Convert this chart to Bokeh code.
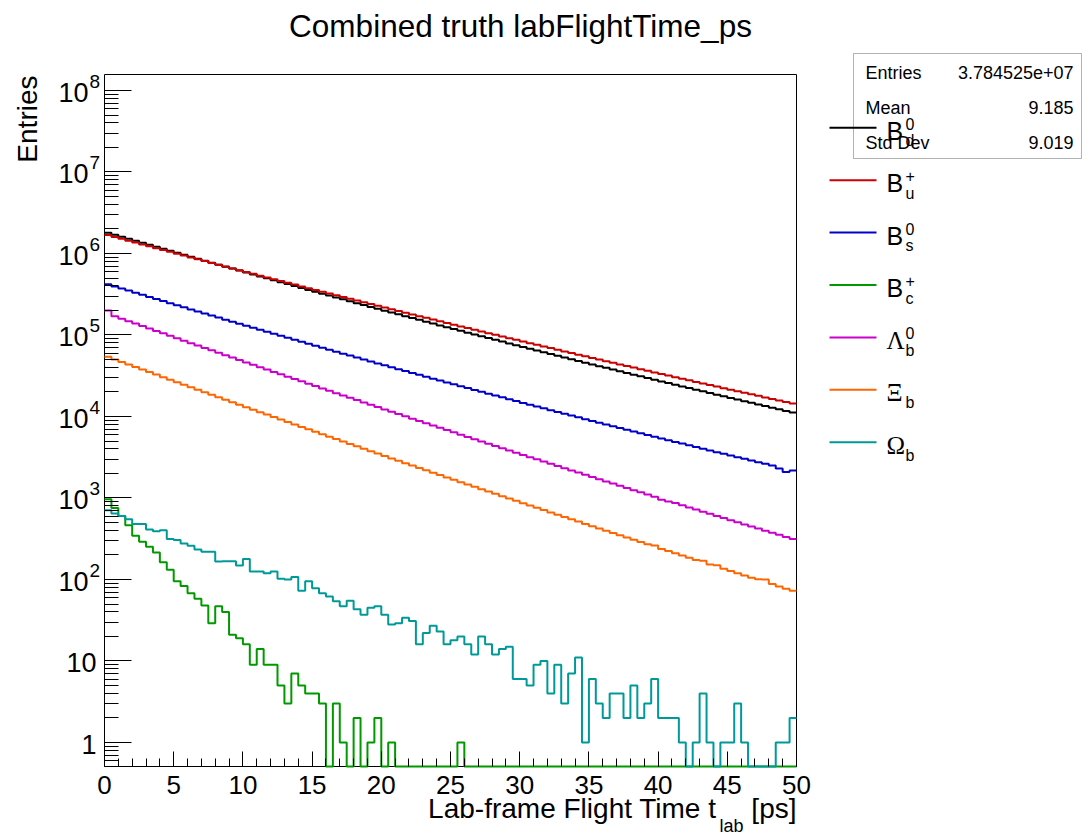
import math
import numpy as np
from bokeh.plotting import figure
from bokeh.models import (Range1d, FixedTicker, Label, Arrow, BoxAnnotation,
                          CustomJSTickFormatter, LinearAxis, LogAxis)
from bokeh.embed import file_html
from bokeh.resources import INLINE

# ---------------- data ----------------
title_text = "Combined truth labFlightTime_ps"
x_title = "Lab-frame Flight Time t"
x_title_sub = "lab"
x_title_unit = "[ps]"
y_title = "Entries"

x_min, x_max, n_bins = 0.0, 50.0, 100
x_ticks = [0, 5, 10, 15, 20, 25, 30, 35, 40, 45, 50]
y_decades = [0, 1, 2, 3, 4, 5, 6, 7, 8]

series_names = ["B0", "Bu", "Bs", "Bc", "Lb", "Xb", "Ob"]
series_colors = ["#000000", "#cc0000", "#0000cc", "#009900", "#cc00cc", "#ff6600", "#009999"]
legend_main = ["B", "B", "B", "B", "\u039b", "\u039e", "\u03a9"]
legend_sup = ["0", "+", "0", "+", "0", "", ""]
legend_sub = ["d", "u", "s", "c", "b", "b", "b"]

b0 = [1803000, 1703000, 1608000, 1519000, 1435000, 1355000, 1280000, 1208000, 1141000, 1078000,
      1019000, 963800, 911600, 862200, 815200, 771100, 729300, 689700, 652400, 617000,
      583500, 552500, 523400, 495600, 469200, 444400, 420900, 398600, 377400, 357400,
      338400, 320900, 304300, 288500, 273600, 259400, 246000, 233200, 221200, 209600,
      198800, 188800, 179200, 170100, 161500, 153400, 145600, 138200, 131200, 124600,
      118300, 112500, 106900, 101600, 96610, 91850, 87320, 83010, 78900, 75000,
      71300, 67870, 64610, 61490, 58530, 55710, 53020, 50480, 48050, 45730,
      43530, 41490, 39540, 37680, 35920, 34230, 32630, 31090, 29630, 28250,
      26930, 25690, 24520, 23400, 22330, 21310, 20340, 19410, 18520, 17670,
      16860, 16120, 15400, 14710, 14060, 13430, 12830, 12260, 11720, 11190]

bu = [1683000, 1596000, 1515000, 1437000, 1362000, 1292000, 1226000, 1163000, 1103000, 1047000,
      992900, 942800, 895200, 850100, 807200, 766700, 727900, 691300, 656500, 623300,
      591900, 562700, 534900, 508500, 483400, 459500, 436800, 415300, 394700, 375200,
      356700, 339300, 323000, 307300, 292500, 278300, 264800, 252100, 239800, 228300,
      217200, 206900, 197100, 187700, 178800, 170400, 162400, 154700, 147300, 140300,
      133700, 127500, 121500, 115900, 110500, 105400, 100500, 95850, 91410, 87180,
      83120, 79360, 75760, 72310, 69040, 65900, 62930, 60070, 57330, 54740,
      52250, 49940, 47720, 45600, 43580, 41640, 39790, 38030, 36340, 34730,
      33180, 31740, 30370, 29050, 27790, 26580, 25430, 24330, 23280, 22270,
      21300, 20400, 19530, 18700, 17910, 17150, 16420, 15730, 15060, 14420]

bs = [418800, 394600, 371800, 350500, 330300, 311200, 293300, 276400, 260500, 245500,
      231300, 218300, 206000, 194400, 183500, 173100, 163400, 154200, 145500, 137300,
      129600, 122400, 115700, 109400, 103300, 97670, 92300, 87220, 82430, 77890,
      73620, 69660, 65940, 62390, 59040, 55870, 52880, 50040, 47360, 44810,
      42410, 40190, 38090, 36090, 34200, 32410, 30720, 29110, 27580, 26140,
      24780, 23510, 22310, 21170, 20090, 19060, 18090, 17170, 16300, 15470,
      14670, 13940, 13250, 12600, 11970, 11380, 10820, 10270, 9763, 9279,
      8817, 8391, 7985, 7600, 7231, 6882, 6550, 6233, 5931, 5644,
      5371, 5119, 4878, 4649, 4431, 4222, 4023, 3834, 3654, 3482,
      3319, 3167, 3022, 2884, 2752, 2626, 2506, 2300, 2090, 2180]

bc = [964, 755, 600, 464, 344, 291, 253, 215, 163, 132,
      95, 83, 68, 58, 48, 29, 47, 40, 21, 19,
      16, 9, 14, 9, 9, 5, 3, 7, 5, 4,
      4, 3, 0, 3, 1, 0, 2, 0, 1, 2,
      0, 1, 0, 0, 0, 0, 0, 0, 0, 0,
      0, 1, 0, 0, 0, 0, 0, 0, 0, 0,
      0, 0, 0, 0, 0, 0, 0, 0, 0, 0,
      0, 0, 0, 0, 0, 0, 0, 0, 0, 0,
      0, 0, 0, 0, 0, 0, 0, 0, 0, 0,
      0, 0, 0, 0, 0, 0, 0, 0, 0, 0]

lb = [200000, 169800, 158500, 147900, 138000, 128800, 120200, 112200, 104700, 97680,
      91160, 85070, 79470, 74250, 69360, 64810, 60550, 56550, 52840, 49360,
      46120, 43090, 40300, 37690, 35250, 32980, 30840, 28840, 26980, 25230,
      23600, 22070, 20670, 19340, 18120, 16960, 15880, 14870, 13920, 13040,
      12200, 11430, 10720, 10040, 9415, 8825, 8271, 7753, 7267, 6813,
      6386, 5985, 5616, 5271, 4947, 4642, 4356, 4088, 3836, 3600,
      3378, 3170, 2978, 2797, 2628, 2470, 2320, 2179, 2048, 1923,
      1806, 1697, 1597, 1501, 1413, 1328, 1249, 1175, 1104, 1039,
      955, 905, 866, 815, 767, 722, 680, 641, 603, 568,
      535, 503, 474, 447, 421, 397, 374, 353, 333, 313]

xb = [53950, 50210, 46740, 43490, 40490, 37680, 35080, 32650, 30390, 28290,
      26330, 24530, 22870, 21310, 19850, 18500, 17240, 16070, 14970, 13950,
      13000, 12120, 11310, 10550, 9842, 9181, 8563, 7989, 7455, 6954,
      6486, 6058, 5656, 5282, 4933, 4608, 4303, 4019, 3754, 3505,
      3274, 3062, 2862, 2676, 2502, 2339, 2187, 2045, 1912, 1788,
      1671, 1564, 1464, 1370, 1283, 1201, 1124, 1052, 984, 922,
      863, 808, 757, 710, 665, 623, 584, 547, 513, 480,
      450, 422, 396, 372, 349, 327, 307, 288, 270, 262,
      236, 223, 210, 197, 185, 174, 170, 153, 150, 135,
      127, 119, 112, 105, 101, 100, 88, 82, 77, 73]

ob = [708, 644, 603, 550, 478, 478, 411, 392, 402, 313,
      305, 277, 260, 234, 219, 219, 166, 168, 168, 148,
      179, 125, 125, 119, 125, 102, 100, 107, 73, 95,
      78, 68, 62, 54, 47, 55, 43, 37, 45, 47,
      37, 28, 29, 34, 31, 16, 22, 27, 23, 16,
      18, 20, 16, 12, 20, 16, 12, 14, 15, 6,
      6, 5, 9, 10, 4, 9, 3, 7, 11, 1,
      6, 3, 2, 4, 4, 2, 5, 2, 3, 6,
      2, 2, 2, 1, 0, 1, 4, 1, 0, 1,
      1, 3, 1, 0, 0, 0, 0, 1, 1, 2]

all_series = [b0, bu, bs, bc, lb, xb, ob]

stats_names = ["Entries", "Mean", "Std Dev"]
stats_values = ["3.784525e+07", "9.185", "9.019"]

# ---------------- layout (canvas pixel coordinates) ----------------
FIG_W, FIG_H = 1082, 835
FRAME_L, FRAME_T, FRAME_W, FRAME_H = 104, 74, 692, 692
Y_LO, Y_HI = 0.5076, 1.571e8
LOG_LO, LOG_HI = math.log10(Y_LO), math.log10(Y_HI)
FONT = "Liberation Sans"
SERIF = "Liberation Serif"


def xd(px):
    return x_min + (px - FRAME_L) * (x_max - x_min) / FRAME_W


def yd(py):
    return 10 ** (LOG_HI - (py - FRAME_T) * (LOG_HI - LOG_LO) / FRAME_H)


def ypx(v):
    return FRAME_T + (LOG_HI - math.log10(v)) * FRAME_H / (LOG_HI - LOG_LO)


# the Bokeh frame covers the whole canvas; the ROOT-like pad frame is drawn inside
p = figure(width=FIG_W, height=FIG_H,
           x_range=Range1d(xd(0), xd(FIG_W)), y_range=Range1d(yd(FIG_H), yd(0)),
           y_axis_type="log", x_axis_location=None, y_axis_location=None,
           output_backend="svg", toolbar_location=None,
           min_border_left=0, min_border_right=0, min_border_top=0, min_border_bottom=0)
p.background_fill_color = "white"
p.border_fill_color = "white"
p.outline_line_color = None
p.xgrid.visible = False
p.ygrid.visible = False
for g in p.grid:
    g.visible = False

# pad frame
p.quad(left=x_min, right=x_max, bottom=Y_LO, top=Y_HI, fill_color=None,
       line_color="black", line_width=1)

# x axis at the bottom of the pad frame
xax = LinearAxis(fixed_location=Y_LO)
xax.ticker = FixedTicker(ticks=x_ticks, minor_ticks=list(range(int(x_min), int(x_max) + 1)))
xax.major_tick_in = 15
xax.major_tick_out = 0
xax.minor_tick_in = 8
xax.minor_tick_out = 0
xax.major_label_text_font = FONT
xax.major_label_text_font_size = "26px"
xax.major_label_text_color = "black"
xax.major_label_standoff = 9
xax.axis_line_color = None
xax.major_tick_line_color = "black"
xax.minor_tick_line_color = "black"
p.add_layout(xax, "below")

# y axis at the left of the pad frame
minor_y = []
for d in range(-1, 9):
    for m in range(2, 10):
        v = m * 10.0 ** d
        if Y_LO < v < Y_HI:
            minor_y.append(v)
yax = LogAxis(fixed_location=x_min)
yax.ticker = FixedTicker(ticks=[10.0 ** d for d in y_decades], minor_ticks=minor_y)
yax.formatter = CustomJSTickFormatter(code="return ''")
yax.major_tick_in = 27
yax.major_tick_out = 0
yax.minor_tick_in = 14
yax.minor_tick_out = 0
yax.axis_line_color = None
yax.major_tick_line_color = "black"
yax.minor_tick_line_color = "black"
p.add_layout(yax, "left")

# histograms
edges = np.linspace(x_min, x_max, n_bins + 1)
for vals, col in zip(all_series, series_colors):
    y = np.maximum(np.asarray(vals, dtype=float), Y_LO)
    ys = np.append(y, y[-1])
    p.step(edges, ys, mode="after", line_color=col, line_width=2)

# y tick labels
for d in y_decades:
    py = ypx(10.0 ** d)
    if d >= 2:
        p.add_layout(Label(x=xd(88), y=yd(py + 2), text="10", text_align="right",
                           text_baseline="middle", text_font=FONT,
                           text_font_size="27px", text_color="black"))
        p.add_layout(Label(x=xd(89), y=yd(py - 9), text=str(d), text_align="left",
                           text_baseline="middle", text_font=FONT,
                           text_font_size="19px", text_color="black"))
    else:
        p.add_layout(Label(x=xd(96), y=yd(py + 2), text=str(10 ** d), text_align="right",
                           text_baseline="middle", text_font=FONT,
                           text_font_size="27px", text_color="black"))

# title
p.add_layout(Label(x=xd(520), y=yd(25), text=title_text, text_align="center",
                   text_baseline="middle", text_font=FONT, text_font_size="31.5px",
                   text_color="black"))

# axis titles
p.add_layout(Label(x=xd(716), y=yd(808), text=x_title, text_align="right",
                   text_baseline="middle", text_font=FONT, text_font_size="28px",
                   text_color="black"))
p.add_layout(Label(x=xd(719), y=yd(825), text=x_title_sub, text_align="left",
                   text_baseline="middle", text_font=FONT, text_font_size="18px",
                   text_color="black"))
p.add_layout(Label(x=xd(796), y=yd(808), text=x_title_unit, text_align="right",
                   text_baseline="middle", text_font=FONT, text_font_size="28px",
                   text_color="black"))
p.add_layout(Label(x=xd(27), y=yd(75), text=y_title, text_align="right",
                   text_baseline="middle", angle=math.pi / 2, text_font=FONT,
                   text_font_size="28px", text_color="black"))

# stats box
p.add_layout(BoxAnnotation(left=xd(853), right=xd(1081), top=yd(53), bottom=yd(158),
                           fill_color="white", fill_alpha=1.0, line_color="black",
                           line_width=1))
for i, (nm, val) in enumerate(zip(stats_names, stats_values)):
    py = 72 + i * 35
    p.add_layout(Label(x=xd(865), y=yd(py), text=nm, text_align="left",
                       text_baseline="middle", text_font=FONT, text_font_size="18px",
                       text_color="black"))
    p.add_layout(Label(x=xd(1073), y=yd(py), text=val, text_align="right",
                       text_baseline="middle", text_font=FONT, text_font_size="18px",
                       text_color="black"))

# legend
for i, (col, mn, sp, sb) in enumerate(zip(series_colors, legend_main, legend_sup, legend_sub)):
    py = 127.3 + i * 52.4
    p.add_layout(Arrow(end=None, x_start=xd(829), y_start=yd(py), x_end=xd(876),
                       y_end=yd(py), line_color=col, line_width=2))
    fnt = FONT if mn == "B" else SERIF
    p.add_layout(Label(x=xd(886), y=yd(py + 3), text=mn, text_align="left",
                       text_baseline="middle", text_font=fnt, text_font_size="25px",
                       text_color="black"))
    if sp:
        p.add_layout(Label(x=xd(905), y=yd(py - 4), text=sp, text_align="left",
                           text_baseline="middle", text_font=FONT, text_font_size="16px",
                           text_color="black"))
    if sb:
        p.add_layout(Label(x=xd(905), y=yd(py + 13), text=sb, text_align="left",
                           text_baseline="middle", text_font=FONT, text_font_size="16px",
                           text_color="black"))

open("out.html", "w").write(file_html(p, INLINE))
